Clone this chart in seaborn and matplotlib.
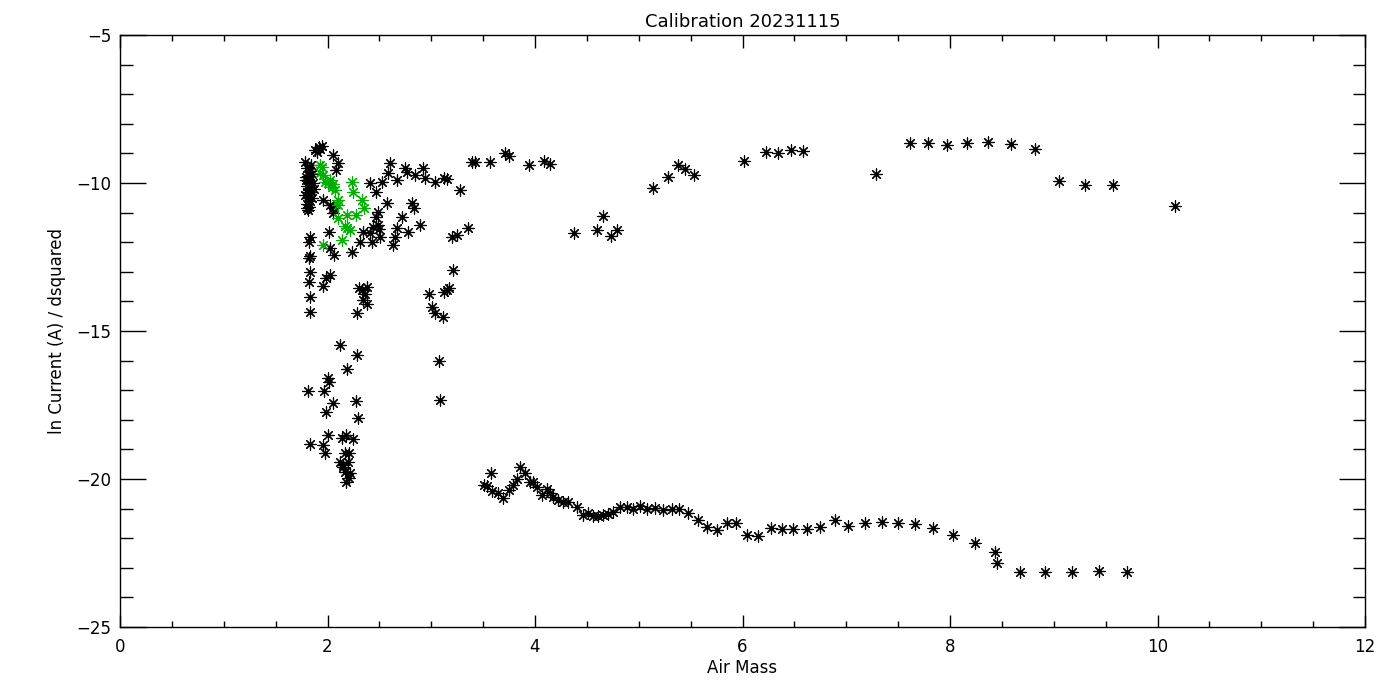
import numpy as np
import pandas as pd
import seaborn as sns
import matplotlib.pyplot as plt
from matplotlib.ticker import MultipleLocator

# black: dense column near air mass 1.8
col_x = [1.78, 1.80, 1.82, 1.79, 1.81, 1.83, 1.85, 1.80, 1.82, 1.84, 1.78, 1.81,
         1.83, 1.86, 1.80, 1.82, 1.79, 1.84, 1.81, 1.83, 1.87, 1.85, 1.80, 1.82,
         1.83, 1.82, 1.83, 1.82, 1.83, 1.82, 1.83, 1.83, 1.81, 1.83]
col_y = [-9.3, -9.5, -9.6, -9.8, -9.9, -10.0, -9.7, -10.1, -10.2, -10.3, -10.4, -10.5,
         -10.6, -10.0, -10.7, -10.8, -9.9, -9.4, -10.9, -9.6, -10.2, -10.5, -10.3, -9.75,
         -11.82, -12.0, -12.47, -12.55, -13.0, -13.34, -13.85, -14.36, -17.03, -18.82]

# black: scatter between air mass 1.9 and 3.8
mid_x = [1.88, 1.92, 1.95, 1.90, 1.93, 2.05, 2.10, 2.08, 1.96, 2.02, 2.05, 2.05,
         1.80, 2.01, 2.02, 2.06, 2.24, 2.02, 1.99, 1.96, 2.30, 2.33, 2.38, 2.36,
         2.34, 2.38, 2.28, 2.41, 2.47, 2.53, 2.60, 2.58, 2.67, 2.75, 2.77, 2.84,
         2.92, 2.94, 3.04, 3.12, 3.15, 3.28, 3.39, 3.42, 3.57, 3.71, 3.75, 2.57,
         2.49, 2.47, 2.81, 2.83, 2.72, 2.89, 2.67, 2.65, 2.63, 2.78, 2.49, 2.44,
         2.41, 2.51, 2.43, 2.31, 2.34, 2.50, 3.25, 3.20, 3.35, 3.15, 3.17, 3.12,
         2.98, 3.01, 3.04, 3.11, 3.21, 3.07, 3.08]
mid_y = [-8.9, -8.8, -8.75, -8.95, -8.85, -9.05, -9.32, -9.56, -10.57, -10.74, -10.84, -11.0,
         -10.84, -11.66, -12.2, -12.43, -12.33, -13.1, -13.2, -13.48, -13.55, -13.6, -13.5, -13.75,
         -13.95, -14.1, -14.4, -10.0, -10.3, -9.97, -9.32, -9.66, -9.9, -9.5, -9.63, -9.73,
         -9.5, -9.83, -9.97, -9.83, -9.87, -10.24, -9.29, -9.29, -9.29, -8.99, -9.1, -10.68,
         -10.98, -11.14, -10.68, -10.84, -11.14, -11.42, -11.52, -11.82, -12.1, -11.66, -11.42, -11.49,
         -11.69, -11.82, -11.99, -11.99, -11.66, -11.55, -11.76, -11.82, -11.52, -13.61, -13.55, -13.68,
         -13.75, -14.19, -14.39, -14.53, -12.94, -16.01, -17.33]

# black: low cluster near air mass 2.1
low_x = [2.12, 2.28, 2.19, 2.00, 2.01, 1.97, 2.05, 2.27, 1.99, 2.29, 2.00, 1.96,
         2.14, 2.18, 2.25, 1.98, 2.17, 2.21, 2.12, 2.15, 2.20, 2.17, 2.22, 2.15,
         2.18, 2.21]
low_y = [-15.47, -15.81, -16.28, -16.59, -16.72, -17.03, -17.43, -17.36, -17.74, -17.94, -18.51, -18.85,
         -18.61, -18.51, -18.65, -19.12, -19.12, -19.12, -19.43, -19.53, -19.43, -19.76, -19.8, -19.6,
         -20.1, -19.95]

# black: lower curve from air mass 3.5 to 9.7
curve_x = [3.51, 3.54, 3.58, 3.59, 3.64, 3.69, 3.75, 3.79, 3.83, 3.86, 3.90, 3.95,
           3.98, 4.02, 4.07, 4.12, 4.14, 4.17, 4.22, 4.27, 4.32, 4.40, 4.46, 4.51,
           4.56, 4.61, 4.66, 4.70, 4.75, 4.82, 4.89, 4.94, 5.01, 5.08, 5.16, 5.23,
           5.32, 5.39, 5.47, 5.57, 5.66, 5.75, 5.85, 5.94, 6.04, 6.15, 6.27, 6.38,
           6.49, 6.62, 6.75, 6.89, 7.02, 7.18, 7.34, 7.50, 7.66, 7.84, 8.03, 8.24,
           8.43, 8.45, 8.67, 8.92, 9.18, 9.44, 9.71]
curve_y = [-20.2, -20.23, -19.8, -20.4, -20.47, -20.64, -20.37, -20.2, -20.0, -19.6, -19.8, -20.1,
           -20.1, -20.27, -20.54, -20.34, -20.47, -20.61, -20.71, -20.78, -20.78, -20.95, -21.22, -21.15,
           -21.25, -21.25, -21.22, -21.18, -21.11, -20.95, -20.95, -21.01, -20.91, -21.01, -20.98, -21.05,
           -21.01, -21.01, -21.15, -21.39, -21.62, -21.72, -21.49, -21.49, -21.89, -21.93, -21.66, -21.69,
           -21.69, -21.69, -21.62, -21.39, -21.59, -21.49, -21.45, -21.49, -21.52, -21.66, -21.89, -22.16,
           -22.47, -22.84, -23.14, -23.14, -23.14, -23.11, -23.14]

# black: upper branch from air mass 3.9 to 10.2
upper_x = [3.94, 4.09, 4.14, 4.38, 4.60, 4.66, 4.73, 4.79, 5.14, 5.28, 5.38, 5.45,
           5.53, 6.01, 6.23, 6.34, 6.47, 6.58, 7.29, 7.61, 7.79, 7.97, 8.16, 8.37,
           8.59, 8.82, 9.05, 9.30, 9.57, 10.17]
upper_y = [-9.39, -9.26, -9.36, -11.69, -11.59, -11.11, -11.79, -11.59, -10.17, -9.80, -9.39, -9.53,
           -9.73, -9.26, -8.95, -8.99, -8.89, -8.92, -9.70, -8.65, -8.65, -8.72, -8.65, -8.61,
           -8.68, -8.85, -9.93, -10.07, -10.07, -10.78]

# green points
green_x = [1.93, 1.93, 1.96, 1.95, 2.00, 2.04, 2.07, 1.98, 2.02, 2.05, 2.10, 2.24,
           2.25, 2.33, 2.35, 2.10, 2.10, 2.19, 2.27, 2.19, 2.14, 1.96, 2.17, 2.22]
green_y = [-9.39, -9.65, -9.72, -9.45, -10.0, -10.13, -10.24, -9.95, -9.9, -10.05, -10.57, -9.97,
           -10.3, -10.57, -10.84, -10.74, -11.18, -11.08, -11.08, -11.52, -11.93, -12.1, -11.45, -11.6]

black = pd.DataFrame({
    "air_mass": col_x + mid_x + low_x + curve_x + upper_x,
    "current": col_y + mid_y + low_y + curve_y + upper_y,
})
green = pd.DataFrame({"air_mass": green_x, "current": green_y})

sns.set_style("white")
plt.rcParams["font.family"] = ["DejaVu Sans"]
plt.rcParams["text.color"] = "black"
plt.rcParams["axes.labelcolor"] = "black"
plt.rcParams["xtick.color"] = "black"
plt.rcParams["ytick.color"] = "black"

fig = plt.figure(figsize=(14, 7), dpi=100)
ax = fig.add_axes([120 / 1400, 73 / 700, 1245 / 1400, 592 / 700])

star = (8, 2, 0)
sns.scatterplot(data=black, x="air_mass", y="current", marker=star, s=64,
                color="black", edgecolor="black", linewidth=0.85, ax=ax)
sns.scatterplot(data=green, x="air_mass", y="current", marker=star, s=64,
                color="#00b000", edgecolor="#00b000", linewidth=0.85, ax=ax)

ax.set_xlim(0, 12)
ax.set_ylim(-25, -5)
ax.xaxis.set_major_locator(MultipleLocator(2))
ax.xaxis.set_minor_locator(MultipleLocator(0.5))
ax.yaxis.set_major_locator(MultipleLocator(5))
ax.yaxis.set_minor_locator(MultipleLocator(1))
ax.tick_params(axis="both", which="both", direction="in", top=True, right=True,
               bottom=True, left=True, color="black", labelcolor="black",
               labelsize=12, width=1)
ax.tick_params(axis="x", which="major", length=9, pad=8)
ax.tick_params(axis="x", which="minor", length=4.5)
ax.tick_params(axis="y", which="major", length=19, pad=6)
ax.tick_params(axis="y", which="minor", length=9)
ax.set_yticks([-25, -20, -15, -10, -5])
ax.set_yticklabels(["\u221225", "\u221220", "\u221215", "\u221210", "\u22125"])
for sp in ax.spines.values():
    sp.set_color("black")
    sp.set_linewidth(1)

ax.set_xlabel("Air Mass", fontsize=12, labelpad=2, color="black")
ax.set_ylabel("ln Current (A) / dsquared", fontsize=12, labelpad=8, color="black")
ax.set_title("Calibration 20231115", fontsize=13, pad=6, color="black")

fig.savefig("out.png", dpi=100)
